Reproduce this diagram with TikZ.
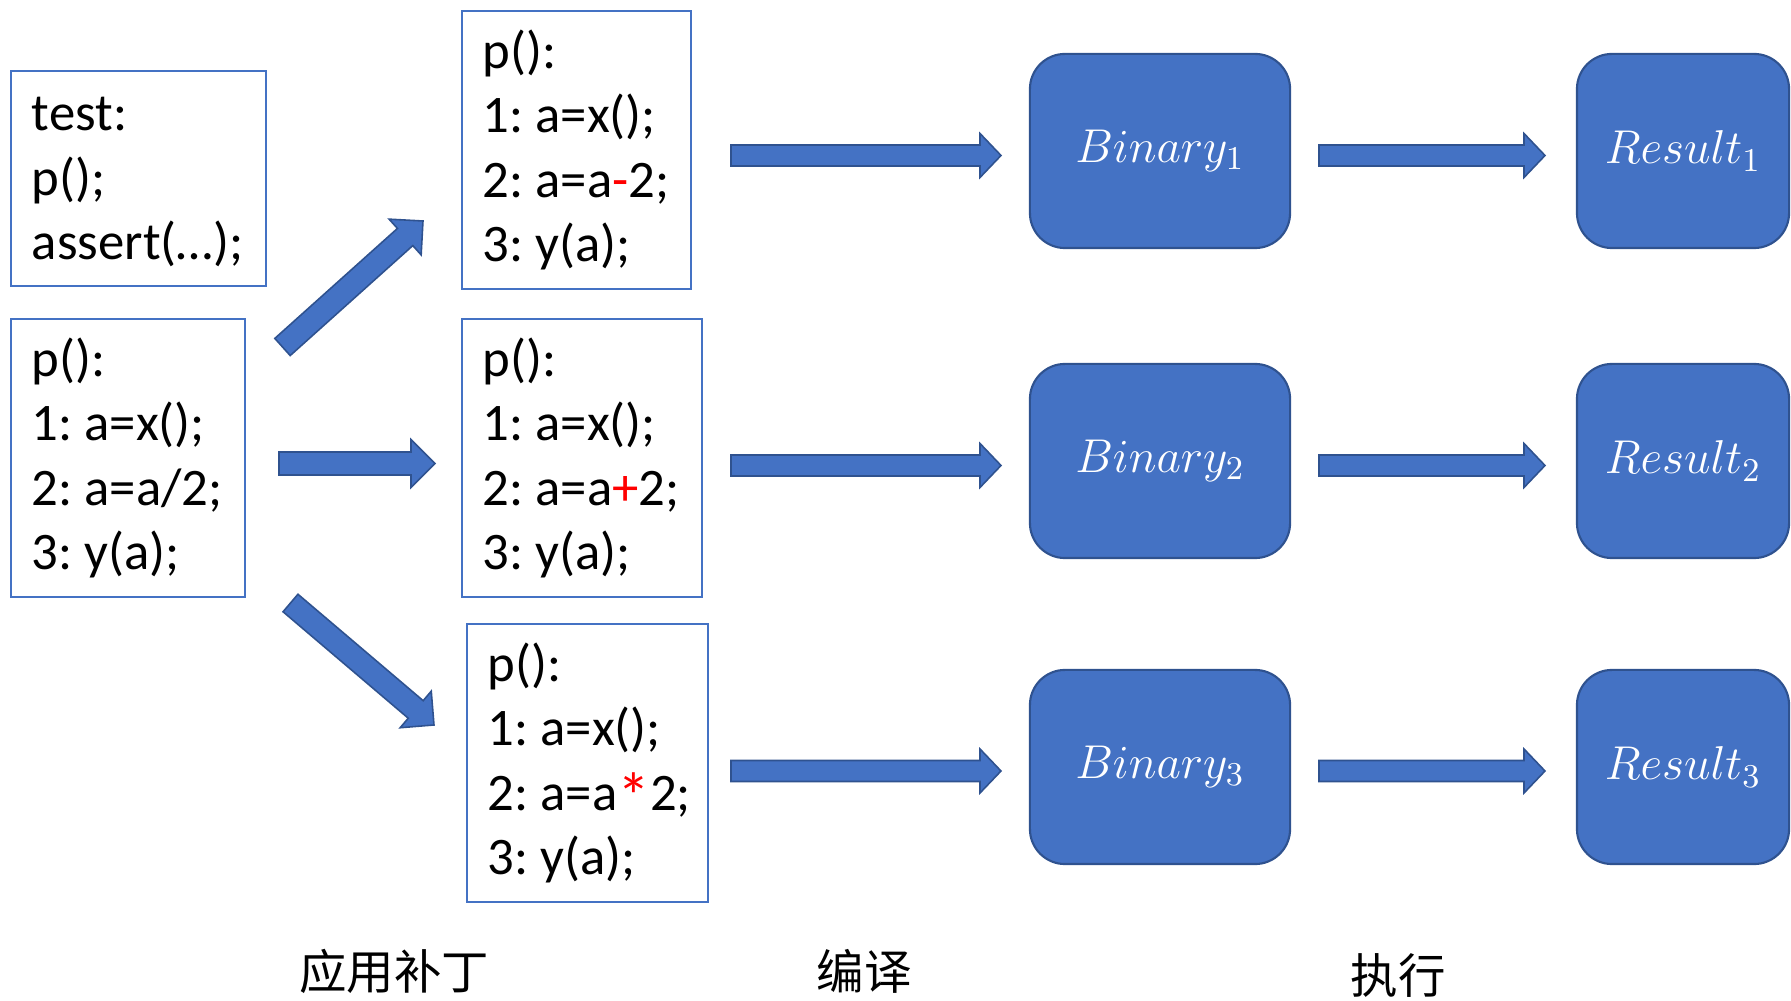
\RequirePackage{fix-cm}
\documentclass[tikz,border=0pt]{standalone}
\usepackage{fontspec}
\setmainfont{Carlito}
\newfontfamily\cjkfont{Noto Sans CJK SC}
\usetikzlibrary{calc}
\frenchspacing
\exhyphenpenalty=10000
\hyphenpenalty=10000

\definecolor{officeblue}{HTML}{4472C4}
\definecolor{officeedge}{HTML}{2F528F}
\definecolor{patchred}{HTML}{FF0000}

\tikzset{
  codebox/.style 2 args={draw=officeblue, line width=0.55pt, anchor=north west,
    align=left, inner xsep=2.1mm, inner ysep=0pt,
    text width=#1-4.2mm, minimum width=#1, minimum height=#2,
    font=\fontsize{15pt}{18.35pt}\selectfont},
  stagebox/.style={draw=officeedge, fill=officeblue, line width=0.6pt,
    rounded corners=3.5mm, text=white, inner sep=0pt,
    font=\fontsize{13.5pt}{16pt}\selectfont},
  blockarrow/.style={draw=officeedge, fill=officeblue, line width=0.45pt, line join=miter},
  stagelabel/.style={font=\cjkfont\fontsize{13.5pt}{16pt}\selectfont, inner sep=0pt}
}

% wide block arrow: tail, tip, shaft half-width, head half-width, head length
\newcommand\blockarrow[5]{%
  \coordinate (ba-base) at ($(#2)!#5!(#1)$);
  \draw[blockarrow]
    ($(#1)!#3!90:(#2)$) -- ($(ba-base)!#3!90:(#2)$) -- ($(ba-base)!#4!90:(#2)$)
    -- (#2) -- ($(ba-base)!#4!-90:(#2)$) -- ($(ba-base)!#3!-90:(#2)$)
    -- ($(#1)!#3!-90:(#2)$) -- cycle;
}

\newcommand\patch[1]{\textcolor{patchred}{#1}}
% unbreakable gap after the line number
\newcommand\lgap{\nobreak\hspace{0.22em}}

\begin{document}
\begin{tikzpicture}[x=0.01cm, y=-0.01cm]
\useasboundingbox (0,0) rectangle (1791,1001);

% source program and test
\node[codebox={25.5mm}{21.5mm}] (test) at (10,70) {\rule{0pt}{0.78em}test:\\p();\\assert(…);};
\node[codebox={23.4mm}{27.8mm}] (orig) at (10,318) {p():\\1:\lgap a=x();\\2:\lgap a=a/2;\\3:\lgap y(a);};

% patched variants
\node[codebox={22.9mm}{27.8mm}] (p1) at (461,10)  {p():\\1:\lgap a=x();\\2:\lgap a=a\patch{-}2;\\3:\lgap y(a);};
\node[codebox={24.0mm}{27.8mm}] (p2) at (461,318) {p():\\1:\lgap a=x();\\2:\lgap a=a\patch{+}2;\\3:\lgap y(a);};
\node[codebox={24.1mm}{27.8mm}] (p3) at (466,623) {p():\\1:\lgap a=x();\\2:\lgap a=a\patch{\raisebox{-2.6pt}{\scalebox{1.25}{*}}}2;\\3:\lgap y(a);};

% compiled binaries
\node[stagebox, minimum width=26mm, minimum height=19.4mm] (bin1) at (1160,151) {$Binary_1$};
\node[stagebox, minimum width=26mm, minimum height=19.4mm] (bin2) at (1160,461) {$Binary_2$};
\node[stagebox, minimum width=26mm, minimum height=19.4mm] (bin3) at (1160,767) {$Binary_3$};

% execution results
\node[stagebox, minimum width=21.2mm, minimum height=19.4mm] (res1) at (1683,151) {$Result_1$};
\node[stagebox, minimum width=21.2mm, minimum height=19.4mm] (res2) at (1683,461) {$Result_2$};
\node[stagebox, minimum width=21.2mm, minimum height=19.4mm] (res3) at (1683,767) {$Result_3$};

% arrow end points
\coordinate (a1s) at (282.5,347);  \coordinate (a1e) at (423,221);
\coordinate (a2s) at (279,463.5);  \coordinate (a2e) at (435,463.5);
\coordinate (a3s) at (290.5,603);  \coordinate (a3e) at (434,725);

\coordinate (c1s) at (731,155.5);  \coordinate (c1e) at (1001,155.5);
\coordinate (c2s) at (731,465.5);  \coordinate (c2e) at (1001,465.5);
\coordinate (c3s) at (731,771);    \coordinate (c3e) at (1001,771);

\coordinate (e1s) at (1319,155.5); \coordinate (e1e) at (1545,155.5);
\coordinate (e2s) at (1319,465.5); \coordinate (e2e) at (1545,465.5);
\coordinate (e3s) at (1319,771);   \coordinate (e3e) at (1545,771);

% apply patches
\blockarrow{a1s}{a1e}{1.15mm}{2.4mm}{2.4mm}
\blockarrow{a2s}{a2e}{1.15mm}{2.4mm}{2.4mm}
\blockarrow{a3s}{a3e}{1.15mm}{2.4mm}{2.4mm}

% compile
\blockarrow{c1s}{c1e}{1.05mm}{2.2mm}{2.1mm}
\blockarrow{c2s}{c2e}{1.05mm}{2.2mm}{2.1mm}
\blockarrow{c3s}{c3e}{1.05mm}{2.2mm}{2.1mm}

% execute
\blockarrow{e1s}{e1e}{1.05mm}{2.2mm}{2.1mm}
\blockarrow{e2s}{e2e}{1.05mm}{2.2mm}{2.1mm}
\blockarrow{e3s}{e3e}{1.05mm}{2.2mm}{2.1mm}

% stage captions
\node[stagelabel] (lpatch) at (394,971) {应用补丁};
\node[stagelabel] (lcomp)  at (864,971) {编译};
\node[stagelabel] (lexec)  at (1398,976) {执行};
\end{tikzpicture}
\end{document}
